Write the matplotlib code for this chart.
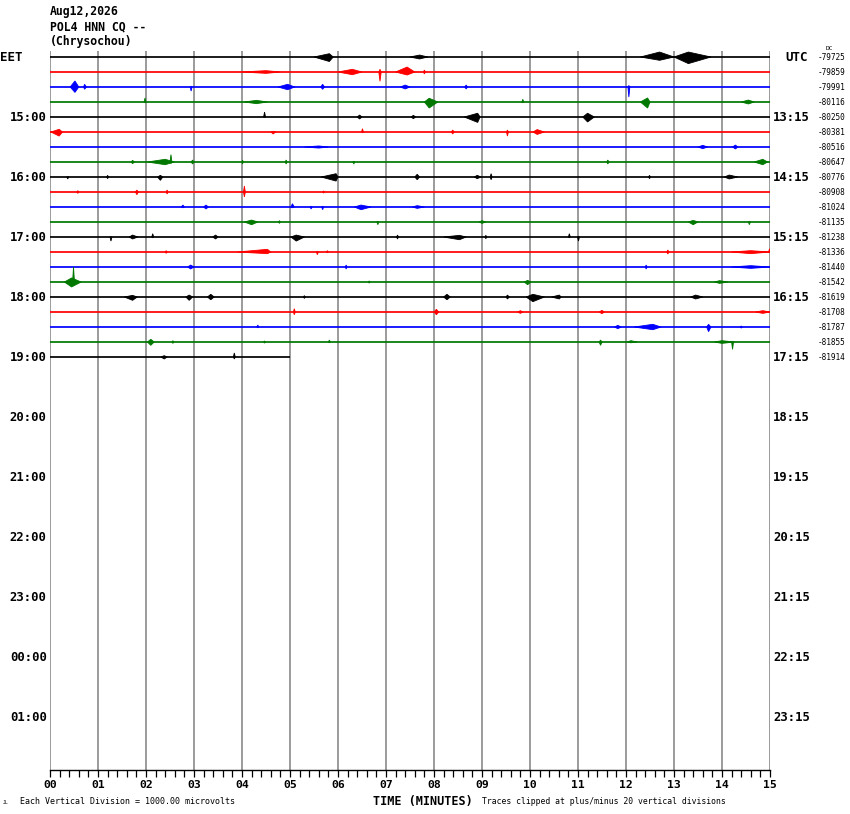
import matplotlib
matplotlib.use("Agg")
import matplotlib.pyplot as plt
from matplotlib.ticker import MultipleLocator

# ---------------- data ----------------
date_label = "Aug12,2026"
station_label = "POL4 HNN CQ --"
place_label = "(Chrysochou)"

trace_colors = ["#000000", "#ff0000", "#0000ff", "#007800"]
n_rows_total = 48
rows_per_hour = 4
trace_ends = [15] * 20 + [5.0]          # minutes covered by each recorded trace

left_hour_labels = ["15:00", "16:00", "17:00", "18:00", "19:00", "20:00",
                    "21:00", "22:00", "23:00", "00:00", "01:00"]
right_hour_labels = ["13:15", "14:15", "15:15", "16:15", "17:15", "18:15",
                     "19:15", "20:15", "21:15", "22:15", "23:15"]
dc_values = [-79725, -79859, -79991, -80116, -80250, -80381, -80516, -80647,
             -80776, -80908, -81024, -81135, -81238, -81336, -81440, -81542,
             -81619, -81708, -81787, -81855, -81914]
minute_labels = ["00", "01", "02", "03", "04", "05", "06", "07",
                 "08", "09", "10", "11", "12", "13", "14", "15"]

# events per trace: (start_min, peak_min, end_min, amp_up, amp_down) in trace spacings
events = [
    [(5.5, 5.82, 5.9, 0.22, 0.3), (7.5, 7.7, 7.87, 0.13, 0.13),
     (12.3, 12.7, 13.0, 0.33, 0.22), (13.0, 13.3, 13.77, 0.33, 0.44)],
    [(6.0, 6.3, 6.5, 0.18, 0.18), (6.85, 6.875, 6.9, 0.18, 0.62),
     (7.2, 7.44, 7.6, 0.33, 0.2), (7.78, 7.8, 7.82, 0.13, 0.13),
     (4.0, 4.5, 4.8, 0.09, 0.09)],
    [(0.42, 0.52, 0.6, 0.4, 0.36), (0.7, 0.72, 0.76, 0.18, 0.15),
     (2.92, 2.94, 2.96, 0.05, 0.27), (4.75, 4.95, 5.1, 0.18, 0.18),
     (5.64, 5.68, 5.72, 0.18, 0.15), (7.3, 7.4, 7.5, 0.13, 0.13),
     (8.64, 8.67, 8.7, 0.13, 0.13), (12.04, 12.06, 12.08, 0.1, 0.67)],
    [(1.96, 1.98, 2.0, 0.27, 0.05), (4.05, 4.3, 4.53, 0.11, 0.11),
     (7.8, 7.9, 8.08, 0.25, 0.4), (9.83, 9.85, 9.87, 0.18, 0.05),
     (12.3, 12.45, 12.5, 0.27, 0.4), (14.4, 14.55, 14.67, 0.13, 0.13)],
    [(4.45, 4.47, 4.49, 0.33, 0.02), (6.4, 6.45, 6.5, 0.13, 0.13),
     (7.52, 7.57, 7.62, 0.11, 0.11), (8.63, 8.91, 8.96, 0.25, 0.36),
     (11.1, 11.2, 11.34, 0.25, 0.33)],
    [(0.02, 0.19, 0.26, 0.18, 0.27), (4.6, 4.65, 4.7, 0.05, 0.13),
     (6.49, 6.51, 6.53, 0.22, 0.05), (8.36, 8.39, 8.42, 0.13, 0.13),
     (9.51, 9.53, 9.55, 0.13, 0.27), (10.06, 10.15, 10.3, 0.16, 0.16)],
    [(13.5, 13.6, 13.7, 0.11, 0.11), (14.22, 14.28, 14.33, 0.13, 0.13),
     (5.3, 5.6, 5.8, 0.07, 0.07)],
    [(1.69, 1.72, 1.76, 0.11, 0.11), (2.03, 2.4, 2.59, 0.18, 0.18),
     (2.5, 2.52, 2.54, 0.49, 0.1), (2.94, 2.97, 3.0, 0.13, 0.13),
     (4.0, 4.01, 4.03, 0.13, 0.13), (4.9, 4.92, 4.94, 0.13, 0.13),
     (6.31, 6.33, 6.35, 0.05, 0.13), (11.6, 11.62, 11.65, 0.13, 0.13),
     (14.67, 14.85, 14.95, 0.18, 0.18)],
    [(0.35, 0.37, 0.39, 0.02, 0.13), (1.18, 1.2, 1.22, 0.11, 0.11),
     (2.24, 2.3, 2.35, 0.11, 0.22), (5.65, 5.96, 6.0, 0.22, 0.27),
     (7.6, 7.65, 7.7, 0.18, 0.18), (8.84, 8.9, 8.98, 0.11, 0.11),
     (9.17, 9.19, 9.21, 0.22, 0.18), (12.47, 12.49, 12.51, 0.11, 0.11),
     (14.05, 14.15, 14.33, 0.13, 0.13)],
    [(0.56, 0.58, 0.6, 0.09, 0.09), (1.78, 1.81, 1.84, 0.13, 0.18),
     (2.42, 2.44, 2.46, 0.13, 0.13), (4.03, 4.05, 4.07, 0.4, 0.33),
     (5.68, 5.7, 5.72, 0.07, 0.07)],
    [(2.73, 2.77, 2.8, 0.13, 0.05), (3.2, 3.25, 3.3, 0.13, 0.13),
     (5.02, 5.05, 5.09, 0.22, 0.05), (5.42, 5.44, 5.46, 0.05, 0.13),
     (5.66, 5.68, 5.7, 0.05, 0.18), (6.34, 6.48, 6.69, 0.13, 0.18),
     (7.55, 7.65, 7.8, 0.09, 0.09)],
    [(4.05, 4.2, 4.33, 0.13, 0.18), (4.76, 4.78, 4.8, 0.09, 0.09),
     (6.81, 6.83, 6.85, 0.05, 0.18), (8.94, 9.0, 9.08, 0.09, 0.09),
     (13.3, 13.4, 13.5, 0.11, 0.18), (14.55, 14.57, 14.59, 0.05, 0.18)],
    [(1.25, 1.27, 1.29, 0.02, 0.27), (1.65, 1.72, 1.83, 0.13, 0.13),
     (2.12, 2.14, 2.16, 0.22, 0.05), (3.39, 3.45, 3.5, 0.13, 0.13),
     (5.02, 5.13, 5.3, 0.13, 0.27), (7.22, 7.24, 7.26, 0.13, 0.13),
     (8.2, 8.53, 8.67, 0.11, 0.18), (9.06, 9.08, 9.1, 0.11, 0.11),
     (10.8, 10.82, 10.84, 0.22, 0.05), (10.99, 11.01, 11.03, 0.05, 0.27)],
    [(2.4, 2.42, 2.44, 0.09, 0.09), (3.9, 4.53, 4.6, 0.18, 0.11),
     (5.55, 5.57, 5.59, 0.05, 0.18), (5.76, 5.78, 5.8, 0.09, 0.05),
     (12.85, 12.87, 12.9, 0.13, 0.13), (14.19, 14.6, 14.99, 0.09, 0.11),
     (14.97, 14.99, 15.0, 0.22, 0.05)],
    [(2.87, 2.93, 3.0, 0.13, 0.13), (6.15, 6.17, 6.19, 0.13, 0.13),
     (12.4, 12.42, 12.44, 0.13, 0.13), (14.19, 14.6, 15.0, 0.09, 0.09)],
    [(0.3, 0.45, 0.65, 0.27, 0.33), (0.47, 0.49, 0.51, 1.0, 0.1),
     (6.63, 6.65, 6.67, 0.07, 0.07), (9.88, 9.95, 10.02, 0.11, 0.18),
     (13.84, 13.95, 14.12, 0.09, 0.09)],
    [(1.55, 1.72, 1.82, 0.11, 0.22), (2.83, 2.9, 2.97, 0.13, 0.22),
     (3.28, 3.35, 3.42, 0.18, 0.18), (5.28, 5.3, 5.32, 0.09, 0.09),
     (8.2, 8.27, 8.34, 0.18, 0.18), (9.5, 9.53, 9.57, 0.13, 0.13),
     (9.92, 10.06, 10.3, 0.18, 0.31), (10.45, 10.61, 10.65, 0.13, 0.13),
     (13.35, 13.45, 13.6, 0.13, 0.13)],
    [(5.07, 5.09, 5.11, 0.22, 0.18), (8.0, 8.05, 8.1, 0.18, 0.18),
     (9.74, 9.8, 9.85, 0.09, 0.09), (11.44, 11.5, 11.55, 0.11, 0.11),
     (14.7, 14.85, 15.0, 0.09, 0.09)],
    [(4.31, 4.33, 4.35, 0.13, 0.05), (11.76, 11.83, 11.9, 0.11, 0.11),
     (12.17, 12.56, 12.73, 0.18, 0.18), (13.68, 13.72, 13.77, 0.18, 0.31),
     (14.38, 14.4, 14.42, 0.07, 0.07)],
    [(2.03, 2.1, 2.17, 0.18, 0.22), (2.54, 2.56, 2.58, 0.09, 0.09),
     (4.45, 4.47, 4.49, 0.07, 0.07), (5.8, 5.82, 5.84, 0.13, 0.05),
     (11.44, 11.47, 11.5, 0.13, 0.22), (12.03, 12.1, 12.24, 0.09, 0.05),
     (13.84, 14.0, 14.26, 0.09, 0.09), (14.2, 14.22, 14.24, 0.05, 0.49)],
    [(2.31, 2.38, 2.44, 0.09, 0.13), (3.82, 3.84, 3.86, 0.27, 0.13)],
]

# ---------------- figure ----------------
W, H = 850, 814
fig = plt.figure(figsize=(W / 100, H / 100), dpi=100)
fig.patch.set_facecolor("white")

ax_l, ax_r, ax_t, ax_b = 50, 770, 51, 770
ax = fig.add_axes([ax_l / W, 1 - ax_b / H, (ax_r - ax_l) / W, (ax_b - ax_t) / H])
row_top, row_bottom = -0.4, 47.53
ax.set_xlim(0, 15)
ax.set_ylim(row_bottom, row_top)

mono = "DejaVu Sans Mono"

# grid lines
for m in range(16):
    ax.axvline(m, color="#808080", lw=1.1, zorder=1)

# traces
for r, end in enumerate(trace_ends):
    col = trace_colors[r % 4]
    ax.plot([0, end], [r, r], color=col, lw=1.25, solid_capstyle="butt", zorder=3)
    for (s, p, e, up, dn) in events[r]:
        if e > end:
            e = end
        ax.fill([s, p, e, p], [r, r - up, r, r + dn], color=col, lw=0.6,
                ec=col, zorder=4)

# spines / ticks
for side in ["top", "left", "right"]:
    ax.spines[side].set_visible(False)
ax.spines["bottom"].set_color("black")
ax.spines["bottom"].set_linewidth(1.0)
ax.set_yticks([])
ax.set_xticks(range(16))
ax.set_xticklabels(minute_labels, fontfamily=mono, fontweight="bold", fontsize=8.2)
ax.xaxis.set_minor_locator(MultipleLocator(0.2))
ax.tick_params(axis="x", which="both", direction="out", length=5, width=0.9,
               color="black", pad=2.5)

# left / right hour labels
ax.text(-50 / 48, 0, "EET", ha="left", va="center", fontfamily=mono,
        fontweight="bold", fontsize=9, clip_on=False)
ax.text(735 / 48, 0, "UTC", ha="left", va="center", fontfamily=mono,
        fontweight="bold", fontsize=9, clip_on=False)
for i, lab in enumerate(left_hour_labels):
    rr = rows_per_hour * (i + 1)
    ax.text(-0.07, rr, lab, ha="right", va="center", fontfamily=mono,
            fontweight="bold", fontsize=8.8, clip_on=False)
for i, lab in enumerate(right_hour_labels):
    rr = rows_per_hour * (i + 1)
    ax.text(15.07, rr, lab, ha="left", va="center", fontfamily=mono,
            fontweight="bold", fontsize=8.8, clip_on=False)
for r, v in enumerate(dc_values):
    ax.text(768 / 48, r, str(v), ha="left", va="center", fontfamily=mono,
            fontsize=5.6, clip_on=False)
fig.text(826 / W, 1 - 49 / H, "DC", ha="left", va="center", fontfamily=mono,
         fontsize=4.5)

# header
fig.text(50 / W, 1 - 12 / H, date_label, ha="left", va="center", fontfamily=mono,
         fontweight="bold", fontsize=8.3)
fig.text(50 / W, 1 - 27 / H, station_label, ha="left", va="center", fontfamily=mono,
         fontweight="bold", fontsize=8.3)
fig.text(50 / W, 1 - 42 / H, place_label, ha="left", va="center", fontfamily=mono,
         fontweight="bold", fontsize=8.3)

# footer
fig.text(3 / W, 1 - 802 / H, "JL", ha="left", va="center", fontfamily=mono,
         fontsize=3.5)
fig.text(20 / W, 1 - 801 / H, "Each Vertical Division = 1000.00 microvolts",
         ha="left", va="center", fontfamily=mono, fontsize=6)
fig.text(373 / W, 1 - 801 / H, "TIME (MINUTES)", ha="left", va="center",
         fontfamily=mono, fontweight="bold", fontsize=8.5)
fig.text(482 / W, 1 - 801 / H, "Traces clipped at plus/minus 20 vertical divisions",
         ha="left", va="center", fontfamily=mono, fontsize=5.9)

fig.savefig("out.png", dpi=100, facecolor="white")
